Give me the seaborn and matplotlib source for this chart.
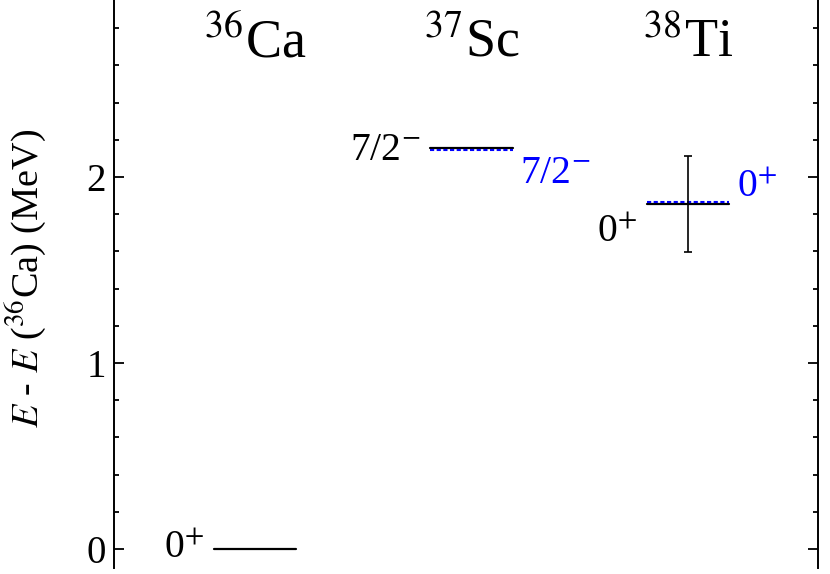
import numpy as np
import pandas as pd
import seaborn as sns
import matplotlib.pyplot as plt
from matplotlib.ticker import MultipleLocator

# level scheme data
nuclei = ["$^{36}$Ca", "$^{37}$Sc", "$^{38}$Ti"]
exp_energy = [0.0, 2.156, 1.855]
exp_spin = ["0$^{+}$", "7/2$^{-}$", "0$^{+}$"]
exp_error = [np.nan, np.nan, 0.26]
calc_energy = [np.nan, 2.145, 1.866]
calc_spin = ["", "7/2$^{-}$", "0$^{+}$"]

sns.set_style("ticks", {"axes.edgecolor": "black", "text.color": "black",
                        "ytick.color": "black", "axes.labelcolor": "black"})
plt.rcParams["font.family"] = ["Liberation Serif", "DejaVu Serif"]
plt.rcParams["mathtext.fontset"] = "stix"

half = 0.19
pos = np.arange(1, len(nuclei) + 1)

fig = plt.figure(figsize=(8.3, 5.74), dpi=100)
ax = fig.add_axes([0.1373, 0.0105, 0.8482, 0.9895])

# experimental levels (solid black)
rows = []
for i, e in enumerate(exp_energy):
    rows.append({"x": pos[i] - half, "E": e, "lvl": i})
    rows.append({"x": pos[i] + half, "E": e, "lvl": i})
df = pd.DataFrame(rows)
sns.lineplot(data=df, x="x", y="E", units="lvl", estimator=None, color="black",
             lw=1.6, ax=ax, legend=False)

# calculated levels (dashed blue)
for i, e in enumerate(calc_energy):
    if np.isnan(e):
        continue
    ax.plot([pos[i] - half, pos[i] + half], [e, e], color="blue", lw=1.5,
            ls=(0, (2, 1.2)))

# error bars
for i, err in enumerate(exp_error):
    if np.isnan(err):
        continue
    ax.errorbar(pos[i], exp_energy[i], yerr=err, color="black", lw=1.2,
                capsize=2.6, capthick=1.2)

# spin labels
exp_dy = [-0.05, -0.066, -0.205]
calc_dy = [0, -0.175, 0.025]
for i in range(len(nuclei)):
    ax.text(pos[i] - half - 0.045, exp_energy[i] + exp_dy[i], exp_spin[i],
            ha="right", va="baseline", fontsize=28.5, color="black")
    if calc_spin[i]:
        ax.text(pos[i] + half + 0.035, calc_energy[i] + calc_dy[i], calc_spin[i],
                ha="left", va="baseline", fontsize=28.5, color="blue")

# nucleus names
for i, name in enumerate(nuclei):
    ax.text(pos[i], 2.645, name, ha="center", va="baseline", fontsize=39)

ax.set_xlim(0.35, 3.6)
ax.set_ylim(-0.102, 2.952)
ax.set_xticks([])
ax.set_xlabel("")
ax.yaxis.set_major_locator(MultipleLocator(1))
ax.yaxis.set_minor_locator(MultipleLocator(0.2))
ax.tick_params(axis="y", which="both", direction="in", left=True, right=True,
               labelsize=28, width=1.3, pad=6, colors="black")
ax.tick_params(axis="y", which="major", length=7)
ax.tick_params(axis="y", which="minor", length=3.5)
ax.set_ylabel("$E$ - $E$ ($^{36}$Ca) (MeV)", fontsize=27.5)
ax.yaxis.set_label_coords(-0.092, 0.51)

for side in ["top", "bottom"]:
    ax.spines[side].set_visible(False)
for side in ["left", "right"]:
    ax.spines[side].set_visible(True)
    ax.spines[side].set_linewidth(1.4)

fig.savefig("out.png", dpi=100, facecolor="white")
